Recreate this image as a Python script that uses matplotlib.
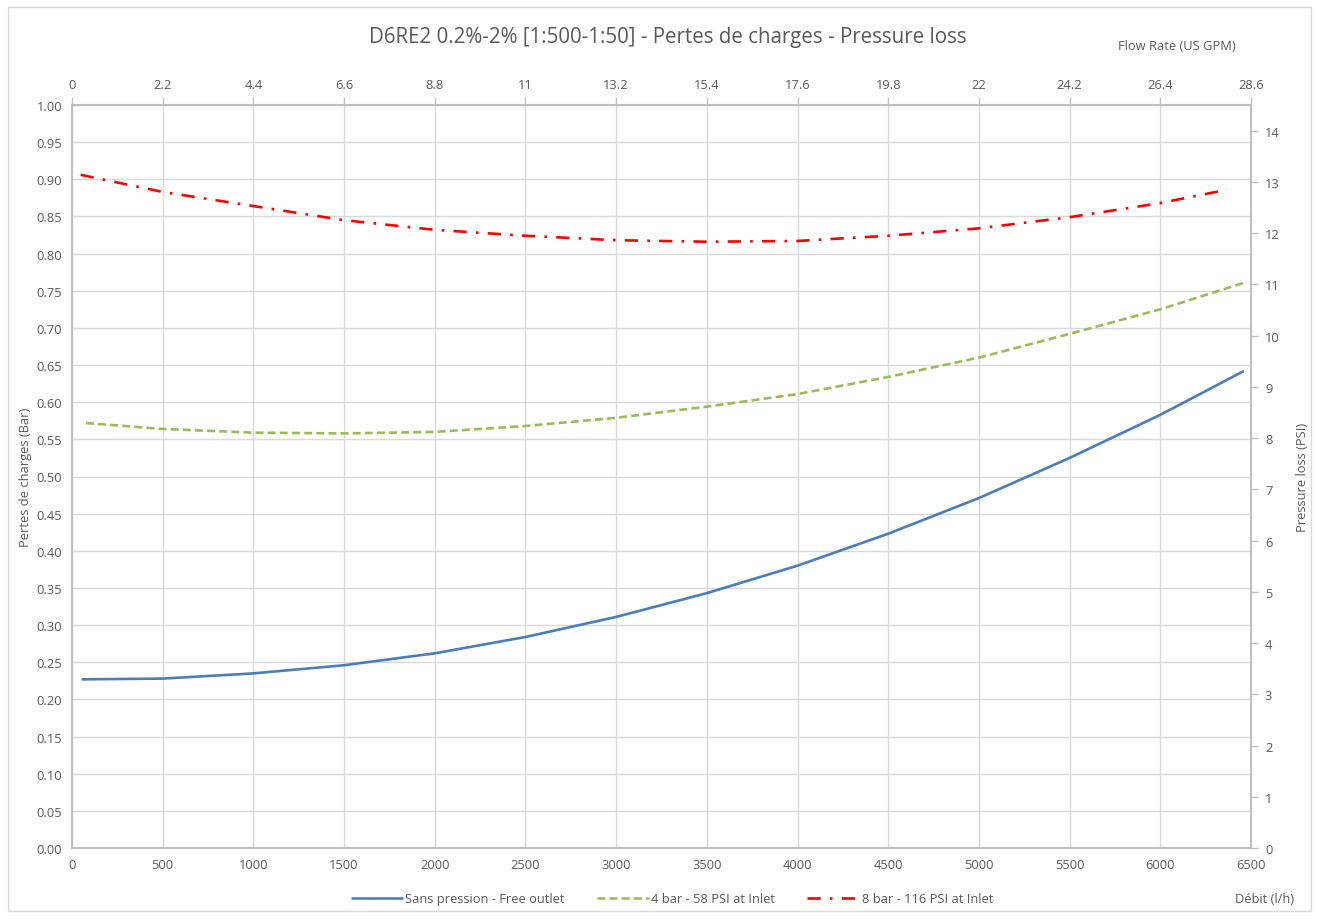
import matplotlib
matplotlib.use("Agg")
import matplotlib.pyplot as plt
from matplotlib.patches import Rectangle

plt.rcParams['font.family'] = ['Open Sans', 'DejaVu Sans']

# ---- data ----
blue_flow = [53, 500, 1000, 1500, 2000, 2500, 3000, 3500, 4000, 4500, 5000, 5500, 6000, 6461]
blue_bar = [0.227, 0.228, 0.235, 0.246, 0.262, 0.284, 0.311, 0.343, 0.380, 0.423, 0.471, 0.525, 0.583, 0.642]

green_flow = [77, 500, 1000, 1500, 2000, 2500, 3000, 3500, 4000, 4500, 5000, 5500, 6000, 6478]
green_bar = [0.572, 0.564, 0.559, 0.558, 0.560, 0.568, 0.579, 0.594, 0.611, 0.634, 0.660, 0.692, 0.725, 0.762]

red_flow = [48, 500, 1000, 1500, 2000, 2500, 3000, 3500, 4000, 4500, 5000, 5500, 6000, 6368]
red_bar = [0.906, 0.883, 0.864, 0.845, 0.832, 0.824, 0.818, 0.816, 0.817, 0.824, 0.834, 0.849, 0.868, 0.886]

series_labels = ["Sans pression - Free outlet", "4 bar - 58 PSI at Inlet", "8 bar - 116 PSI at Inlet"]
title = "D6RE2 0.2%-2% [1:500-1:50] - Pertes de charges - Pressure loss"

x_ticks = list(range(0, 6501, 500))
y_ticks = [i * 0.05 for i in range(21)]
psi_ticks = list(range(0, 15))
gpm_ticks = [0, 2.2, 4.4, 6.6, 8.8, 11, 13.2, 15.4, 17.6, 19.8, 22, 24.2, 26.4, 28.6]
gpm_labels = ["0", "2.2", "4.4", "6.6", "8.8", "11", "13.2", "15.4", "17.6", "19.8", "22", "24.2", "26.4", "28.6"]
BAR_TO_PSI = 14.5038

TXT = '#595959'
GRID = '#D9D9D9'
SPINE = '#BFBFBF'
FS = 9.3

fig = plt.figure(figsize=(13.19, 9.2), dpi=100)
fig.patches.append(Rectangle((8/1319, 8/920), 1303/1319, 904/920, transform=fig.transFigure,
                             fill=False, edgecolor='#D9D9D9', linewidth=1))
ax = fig.add_axes([72/1319, 1 - 849/920, (1251-72)/1319, (849-106)/920])

ax.plot(blue_flow, blue_bar, color='#4A7EBB', lw=1.9, label=series_labels[0], solid_capstyle='butt')
ax.plot(green_flow, green_bar, color='#9BBB59', lw=1.9, ls=(0, (3, 1.6)), label=series_labels[1])
ax.plot(red_flow, red_bar, color='#FF0000', lw=1.9, ls=(0, (5, 3.5, 1, 3.5)), label=series_labels[2])

ax.set_xlim(0, 6500)
ax.set_ylim(0, 1.0)
ax.set_xticks(x_ticks)
ax.set_yticks(y_ticks)
ax.set_yticklabels([f"{v:.2f}" for v in y_ticks])
ax.grid(True, color=GRID, lw=1)
ax.set_axisbelow(True)
ax.tick_params(axis='both', colors=TXT, labelsize=FS, length=0, pad=7)
for s in ['left', 'bottom']:
    ax.spines[s].set_color(SPINE)
    ax.spines[s].set_linewidth(1.5)
for s in ['top', 'right']:
    ax.spines[s].set_visible(False)
ax.set_ylabel("Pertes de charges (Bar)", color=TXT, fontsize=FS, labelpad=3)

# right axis PSI
ax2 = ax.twinx()
ax2.set_ylim(0, BAR_TO_PSI)
ax2.set_yticks(psi_ticks)
ax2.tick_params(axis='y', colors=SPINE, labelcolor=TXT, labelsize=FS, length=5, width=1, direction='out', pad=5)
for s in ['left', 'top', 'bottom']:
    ax2.spines[s].set_visible(False)
ax2.spines['right'].set_color(SPINE)
ax2.spines['right'].set_linewidth(1.5)
ax2.set_ylabel("Pressure loss (PSI)", color=TXT, fontsize=FS, labelpad=12)

# top axis GPM
ax3 = ax.twiny()
ax3.set_xlim(0, 28.6)
ax3.set_xticks(gpm_ticks)
ax3.set_xticklabels(gpm_labels)
ax3.tick_params(axis='x', colors=SPINE, labelcolor=TXT, labelsize=FS, length=6, width=1, direction='out', pad=4)
for s in ['left', 'right', 'bottom']:
    ax3.spines[s].set_visible(False)
ax3.spines['top'].set_color(SPINE)
ax3.spines['top'].set_linewidth(1.5)

fig.text(668/1319, 1 - 37/920, title, ha='center', va='center', color=TXT, fontsize=14.8)
fig.text(1177/1319, 1 - 47/920, "Flow Rate (US GPM)", ha='center', va='center', color=TXT, fontsize=FS)
fig.text(1265/1319, 1 - 900/920, "Débit (l/h)", ha='center', va='center', color=TXT, fontsize=FS)

fig.legend(loc='center', bbox_to_anchor=(672/1319, 1 - 900/920), ncol=3, frameon=False,
           fontsize=FS, labelcolor=TXT, handlelength=4.0, handletextpad=0.2, columnspacing=2.5)

fig.savefig("out.png", dpi=100)
